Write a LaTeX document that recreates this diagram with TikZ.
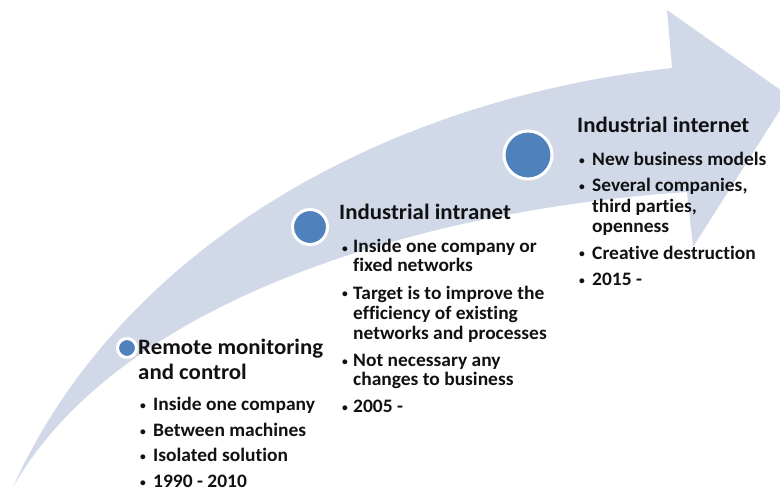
\documentclass[tikz,border=0pt]{standalone}
\usepackage{fontspec}
\setmainfont{Carlito}[Ligatures=NoCommon]
\newfontfamily\headfont{Carlito}[Ligatures=NoCommon,FakeStretch=1.04]
\newfontfamily\itemfont{Carlito}[Ligatures=NoCommon,FakeStretch=1.025]
\definecolor{bandcol}{RGB}{209,217,233}
\definecolor{dotcol}{RGB}{79,129,189}
\definecolor{txtcol}{RGB}{17,17,17}
\begin{document}
\begin{tikzpicture}[x=1pt,y=-1pt,
  band/.style={fill=bandcol},
  dot/.style={circle,fill=dotcol,draw=white,line width=3pt,inner sep=0pt},
  head/.style={anchor=base west,inner sep=0pt,font=\headfont\fontsize{22}{24}\selectfont\bfseries,text=txtcol},
  itm/.style={anchor=base west,inner sep=0pt,font=\itemfont\fontsize{19}{20}\selectfont\bfseries,text=txtcol},
  bul/.style={anchor=base,inner sep=0pt,font=\fontsize{11.5}{12}\selectfont\bfseries,text=txtcol}]
\useasboundingbox (0,0) rectangle (780,492);
\clip (0,0) rectangle (780,492);
\fill[white] (0,0) rectangle (780,492);
% curved arrow
\fill[band] (13,487) .. controls (120,250) and (380,100) .. (672,68)
  -- (667,10) -- (789,96) -- (693,247) -- (687,192)
  .. controls (420,210) and (120,300) .. (13,487) -- cycle;
% milestones
\node[dot,minimum size=19pt] (d1) at (127,348) {};
\node[dot,minimum size=35pt] (d2) at (310,227) {};
\node[dot,minimum size=48pt] (d3) at (528,155) {};
% column 1
\node[head] (h1a) at (138,354) {Remote monitoring};
\node[head] (h1b) at (138,379) {and control};
\node[bul] (c1b1) at (143,409) {•};
\node[itm] (c1t1) at (153,410) {Inside one company};
\node[bul] (c1b2) at (143,435) {•};
\node[itm] (c1t2) at (153,436) {Between machines};
\node[bul] (c1b3) at (143,460) {•};
\node[itm] (c1t3) at (153,461) {Isolated solution};
\node[bul] (c1b4) at (143,486) {•};
\node[itm] (c1t4) at (153,487) {1990 - 2010};
% column 2
\node[head] (h2) at (339,219) {Industrial intranet};
\node[bul] (c2b1) at (345,252) {•};
\node[itm] (c2t1a) at (353,253) {Inside one company or};
\node[itm] (c2t1b) at (353,272) {fixed networks};
\node[bul] (c2b2) at (345,298) {•};
\node[itm] (c2t2a) at (353,299) {Target is to improve the};
\node[itm] (c2t2b) at (353,319) {efficiency of existing};
\node[itm] (c2t2c) at (353,339) {networks and processes};
\node[bul] (c2b3) at (345,365) {•};
\node[itm] (c2t3a) at (353,366) {Not necessary any};
\node[itm] (c2t3b) at (353,385) {changes to business};
\node[bul] (c2b4) at (345,411) {•};
\node[itm] (c2t4) at (353,412) {2005 -};
% column 3
\node[head] (h3) at (577,133) {Industrial internet};
\node[bul] (c3b1) at (582,165) {•};
\node[itm] (c3t1) at (592,166) {New business models};
\node[bul] (c3b2) at (582,191) {•};
\node[itm] (c3t2a) at (592,192) {Several companies,};
\node[itm] (c3t2b) at (592,213) {third parties,};
\node[itm] (c3t2c) at (592,233) {openness};
\node[bul] (c3b3) at (582,258) {•};
\node[itm] (c3t3) at (592,259) {Creative destruction};
\node[bul] (c3b4) at (582,284) {•};
\node[itm] (c3t4) at (592,285) {2015 -};
\end{tikzpicture}
\end{document}
